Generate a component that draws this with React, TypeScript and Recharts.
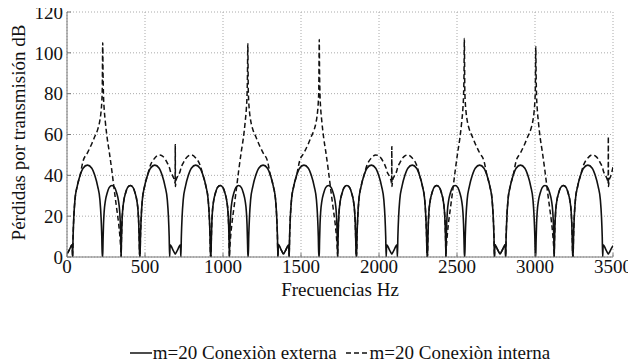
import React from 'react';
import { LineChart, Line, XAxis, YAxis, CartesianGrid, Legend, Label } from 'recharts';

// Frequency (Hz) sample points
const freq = [
  0, 15, 33, 36,
  39, 44, 51, 65, 84, 103, 131, 159, 178, 197, 211, 218, 223, 226,
  229, 231, 234, 238, 246, 258, 270, 288, 306, 318, 330, 338, 342, 345, 347,
  349, 352, 356, 364, 376, 388, 406, 424, 436, 448, 456, 460, 463, 465,
  468, 471, 476, 483, 497, 516, 535, 563, 591, 610, 629, 643, 650, 655, 658,
  661, 679, 689, 693, 694, 695, 699, 709, 727,
  730, 733, 738, 745, 759, 778, 797, 825, 853, 872, 891, 905, 912, 917, 920,
  923, 925, 928, 932, 940, 952, 964, 982, 1000, 1012, 1024, 1032, 1036, 1039, 1041,
  1043, 1046, 1050, 1058, 1070, 1082, 1100, 1118, 1130, 1142, 1150, 1154, 1157, 1159,
  1162, 1165, 1170, 1177, 1191, 1210, 1229, 1257, 1285, 1304, 1323, 1337, 1344, 1349, 1352,
  1355, 1373, 1383, 1388, 1393, 1403, 1421,
  1424, 1427, 1432, 1439, 1453, 1472, 1491, 1519, 1547, 1566, 1585, 1599, 1606, 1611, 1614,
  1617, 1619, 1622, 1626, 1634, 1646, 1658, 1676, 1694, 1706, 1718, 1726, 1730, 1733, 1735,
  1737, 1740, 1744, 1752, 1764, 1776, 1794, 1812, 1824, 1836, 1844, 1848, 1851, 1853,
  1856, 1859, 1864, 1871, 1885, 1904, 1923, 1951, 1979, 1998, 2017, 2031, 2038, 2043, 2046,
  2049, 2067, 2077, 2081, 2082, 2083, 2087, 2097, 2115,
  2118, 2121, 2126, 2133, 2147, 2166, 2185, 2213, 2241, 2260, 2279, 2293, 2300, 2305, 2308,
  2311, 2313, 2316, 2320, 2328, 2340, 2352, 2370, 2388, 2400, 2412, 2420, 2424, 2427, 2429,
  2431, 2434, 2438, 2446, 2458, 2470, 2488, 2506, 2518, 2530, 2538, 2542, 2545, 2547,
  2550, 2553, 2558, 2565, 2579, 2598, 2617, 2645, 2673, 2692, 2711, 2725, 2732, 2737, 2740,
  2743, 2761, 2771, 2776, 2781, 2791, 2809,
  2812, 2815, 2820, 2827, 2841, 2860, 2879, 2907, 2935, 2954, 2973, 2987, 2994, 2999, 3002,
  3005, 3007, 3010, 3014, 3022, 3034, 3046, 3064, 3082, 3094, 3106, 3114, 3118, 3121, 3123,
  3125, 3128, 3132, 3140, 3152, 3164, 3182, 3200, 3212, 3224, 3232, 3236, 3239, 3241,
  3244, 3247, 3252, 3259, 3273, 3292, 3311, 3339, 3367, 3386, 3405, 3419, 3426, 3431, 3434,
  3437, 3455, 3465, 3469, 3470, 3471, 3475, 3485, 3500,
];

// m=20 Conexiòn externa (solid), dB
const externa = [
  1.5, 3.5, 6, 0,
  10, 20, 28, 34.5, 40, 43.5, 45, 43.5, 40, 34.5, 28, 20, 10, 0,
  0, 8, 16, 22, 27.5, 31.5, 34, 35, 34, 31.5, 27.5, 22, 16, 8, 0,
  8, 16, 22, 27.5, 31.5, 34, 35, 34, 31.5, 27.5, 22, 16, 8, 2,
  0, 10, 20, 28, 34.5, 40, 43.5, 45, 43.5, 40, 34.5, 28, 20, 10, 0,
  6, 3.5, 2, 1.6, 1.5, 1.6, 2, 3.5, 6,
  0, 10, 20, 28, 34.5, 40, 43.5, 45, 43.5, 40, 34.5, 28, 20, 10, 0,
  0, 8, 16, 22, 27.5, 31.5, 34, 35, 34, 31.5, 27.5, 22, 16, 8, 0,
  8, 16, 22, 27.5, 31.5, 34, 35, 34, 31.5, 27.5, 22, 16, 8, 2,
  0, 10, 20, 28, 34.5, 40, 43.5, 45, 43.5, 40, 34.5, 28, 20, 10, 0,
  6, 3.5, 2, 1.5, 2, 3.5, 6,
  0, 10, 20, 28, 34.5, 40, 43.5, 45, 43.5, 40, 34.5, 28, 20, 10, 0,
  0, 8, 16, 22, 27.5, 31.5, 34, 35, 34, 31.5, 27.5, 22, 16, 8, 0,
  8, 16, 22, 27.5, 31.5, 34, 35, 34, 31.5, 27.5, 22, 16, 8, 2,
  0, 10, 20, 28, 34.5, 40, 43.5, 45, 43.5, 40, 34.5, 28, 20, 10, 0,
  6, 3.5, 2, 1.6, 1.5, 1.6, 2, 3.5, 6,
  0, 10, 20, 28, 34.5, 40, 43.5, 45, 43.5, 40, 34.5, 28, 20, 10, 0,
  0, 8, 16, 22, 27.5, 31.5, 34, 35, 34, 31.5, 27.5, 22, 16, 8, 0,
  8, 16, 22, 27.5, 31.5, 34, 35, 34, 31.5, 27.5, 22, 16, 8, 2,
  0, 10, 20, 28, 34.5, 40, 43.5, 45, 43.5, 40, 34.5, 28, 20, 10, 0,
  6, 3.5, 2, 1.5, 2, 3.5, 6,
  0, 10, 20, 28, 34.5, 40, 43.5, 45, 43.5, 40, 34.5, 28, 20, 10, 0,
  0, 8, 16, 22, 27.5, 31.5, 34, 35, 34, 31.5, 27.5, 22, 16, 8, 0,
  8, 16, 22, 27.5, 31.5, 34, 35, 34, 31.5, 27.5, 22, 16, 8, 2,
  0, 10, 20, 28, 34.5, 40, 43.5, 45, 43.5, 40, 34.5, 28, 20, 10, 0,
  6, 3.5, 2, 1.6, 1.5, 1.6, 2, 3.5, 5.5,
];

// m=20 Conexiòn interna (dashed), dB
const interna = [
  1.5, 3.5, 6, 0,
  10, 20, 28, 34.5, 40, 47, 51, 55.5, 59, 62.5, 67, 71, 76, 82,
  105, 90, 79, 73, 66, 58, 52, 42, 31, 24, 17, 11, 7, 3.5, 0,
  8, 16, 22, 27.5, 31.5, 34, 35, 34, 31.5, 27.5, 22, 16, 8, 2,
  0, 10, 20, 28, 34.5, 40, 45, 48.5, 50, 49.5, 48, 46, 45, 44, 43.5,
  42.5, 39.5, 37.5, 36, 55, 34.5, 37.5, 39.5, 42.5,
  43.5, 44, 45, 46, 48, 49.5, 50, 48.5, 45, 40, 34.5, 28, 20, 10, 0,
  0, 8, 16, 22, 27.5, 31.5, 34, 35, 34, 31.5, 27.5, 22, 16, 8, 0,
  3.5, 7, 11, 17, 24, 31, 42, 52, 58, 66, 73, 79, 90, 104.5,
  82, 76, 71, 67, 62.5, 59, 55.5, 51, 47, 40, 34.5, 28, 20, 10, 0,
  6, 3.5, 2, 1.5, 2, 3.5, 6,
  0, 10, 20, 28, 34.5, 40, 47, 51, 55.5, 59, 62.5, 67, 71, 76, 82,
  106.5, 90, 79, 73, 66, 58, 52, 42, 31, 24, 17, 11, 7, 3.5, 0,
  8, 16, 22, 27.5, 31.5, 34, 35, 34, 31.5, 27.5, 22, 16, 8, 2,
  0, 10, 20, 28, 34.5, 40, 45, 48.5, 50, 49.5, 48, 46, 45, 44, 43.5,
  42.5, 39.5, 37.5, 36, 54, 34.5, 37.5, 39.5, 42.5,
  43.5, 44, 45, 46, 48, 49.5, 50, 48.5, 45, 40, 34.5, 28, 20, 10, 0,
  0, 8, 16, 22, 27.5, 31.5, 34, 35, 34, 31.5, 27.5, 22, 16, 8, 0,
  3.5, 7, 11, 17, 24, 31, 42, 52, 58, 66, 73, 79, 90, 107,
  82, 76, 71, 67, 62.5, 59, 55.5, 51, 47, 40, 34.5, 28, 20, 10, 0,
  6, 3.5, 2, 1.5, 2, 3.5, 6,
  0, 10, 20, 28, 34.5, 40, 47, 51, 55.5, 59, 62.5, 67, 71, 76, 82,
  103, 90, 79, 73, 66, 58, 52, 42, 31, 24, 17, 11, 7, 3.5, 0,
  8, 16, 22, 27.5, 31.5, 34, 35, 34, 31.5, 27.5, 22, 16, 8, 2,
  0, 10, 20, 28, 34.5, 40, 45, 48.5, 50, 49.5, 48, 46, 45, 44, 43.5,
  42.5, 39.5, 37.5, 36, 59, 34.5, 37.5, 39.5, 44,
];

const xTicks = [0, 500, 1000, 1500, 2000, 2500, 3000, 3500];
const yTicks = [0, 20, 40, 60, 80, 100, 120];
const seriesNames = ['m=20 Conexiòn externa', 'm=20 Conexiòn interna'];
const xLabel = 'Frecuencias Hz';
const yLabel = 'Pérdidas por transmisión dB';

const data = freq.map((f, i) => ({ f, externa: externa[i], interna: interna[i] }));

const FONT = "'Liberation Serif', 'Times New Roman', serif";
const INK = '#111';
const AXIS = '#777';

const YLabelContent = (props: any) => {
  const vb = props.viewBox || { x: 0, y: 12, width: 67, height: 245 };
  const cx = vb.x + 18;
  const cy = vb.y + vb.height / 2 - 2;
  return (
    <text x={cx} y={cy} transform={`rotate(-90 ${cx} ${cy})`} textAnchor="middle"
      dominantBaseline="central" fill={INK} fontFamily={FONT} fontSize={19}>
      {yLabel}
    </text>
  );
};

const XLabelContent = (props: any) => {
  const vb = props.viewBox || { x: 67, y: 257, width: 546, height: 40 };
  return (
    <text x={vb.x + vb.width / 2} y={vb.y + 32} textAnchor="middle" dominantBaseline="central"
      fill={INK} fontFamily={FONT} fontSize={19}>
      {xLabel}
    </text>
  );
};

const LegendContent = () => (
  <div style={{ display: 'flex', justifyContent: 'center', alignItems: 'center', fontFamily: FONT,
    fontSize: 19, color: INK, lineHeight: '22px', whiteSpace: 'nowrap' }}>
    <svg width={22} height={10} style={{ marginRight: 1 }}>
      <line x1={0} y1={5} x2={22} y2={5} stroke={INK} strokeWidth={1.5} />
    </svg>
    <span>{seriesNames[0]}</span>
    <span style={{ display: 'inline-block', width: 9 }} />
    <svg width={23} height={10} style={{ marginRight: 1 }}>
      <line x1={0} y1={5} x2={23} y2={5} stroke={INK} strokeWidth={1.5} strokeDasharray="5 3" />
    </svg>
    <span>{seriesNames[1]}</span>
  </div>
);

export default function App() {
  return (
    <div style={{ margin: '-8px 0 0 -8px', width: 636, height: 364 }}>
      <LineChart width={636} height={364} data={data} margin={{ top: 12, right: 23, bottom: 67, left: 0 }}>
        <CartesianGrid xAxisId="b" yAxisId="l" stroke="#aaa" strokeDasharray="1 2" />
        <XAxis xAxisId="b" dataKey="f" type="number" domain={[0, 3500]} ticks={xTicks} interval={0}
          allowDataOverflow height={40} stroke={AXIS} tickSize={-4} tickMargin={7}
          tick={{ fill: INK, fontSize: 19, fontFamily: FONT }}>
          <Label content={<XLabelContent />} />
        </XAxis>
        <XAxis xAxisId="t" orientation="top" type="number" domain={[0, 3500]} ticks={xTicks} interval={0}
          allowDataOverflow height={0} stroke={AXIS} tickSize={-4} tick={false} />
        <YAxis yAxisId="l" type="number" domain={[0, 120]} ticks={yTicks} interval={0} allowDataOverflow
          width={67} stroke={AXIS} tickSize={-4} tickMargin={8}
          tick={{ fill: INK, fontSize: 19, fontFamily: FONT }}>
          <Label content={<YLabelContent />} />
        </YAxis>
        <YAxis yAxisId="r" orientation="right" type="number" domain={[0, 120]} ticks={yTicks} interval={0}
          allowDataOverflow width={0} stroke={AXIS} tickSize={-4} tick={false} />
        <Legend verticalAlign="middle" align="center" layout="horizontal" content={<LegendContent />}
          wrapperStyle={{ top: 342, left: 67, width: 546 }} />
        <Line xAxisId="b" yAxisId="l" type="monotone" dataKey="externa" name={seriesNames[0]} stroke={INK}
          strokeWidth={1.6} dot={false} activeDot={false} isAnimationActive={false} />
        <Line xAxisId="b" yAxisId="l" type="monotone" dataKey="interna" name={seriesNames[1]} stroke={INK}
          strokeWidth={1.5} strokeDasharray="5 3" dot={false} activeDot={false} isAnimationActive={false} />
      </LineChart>
    </div>
  );
}
